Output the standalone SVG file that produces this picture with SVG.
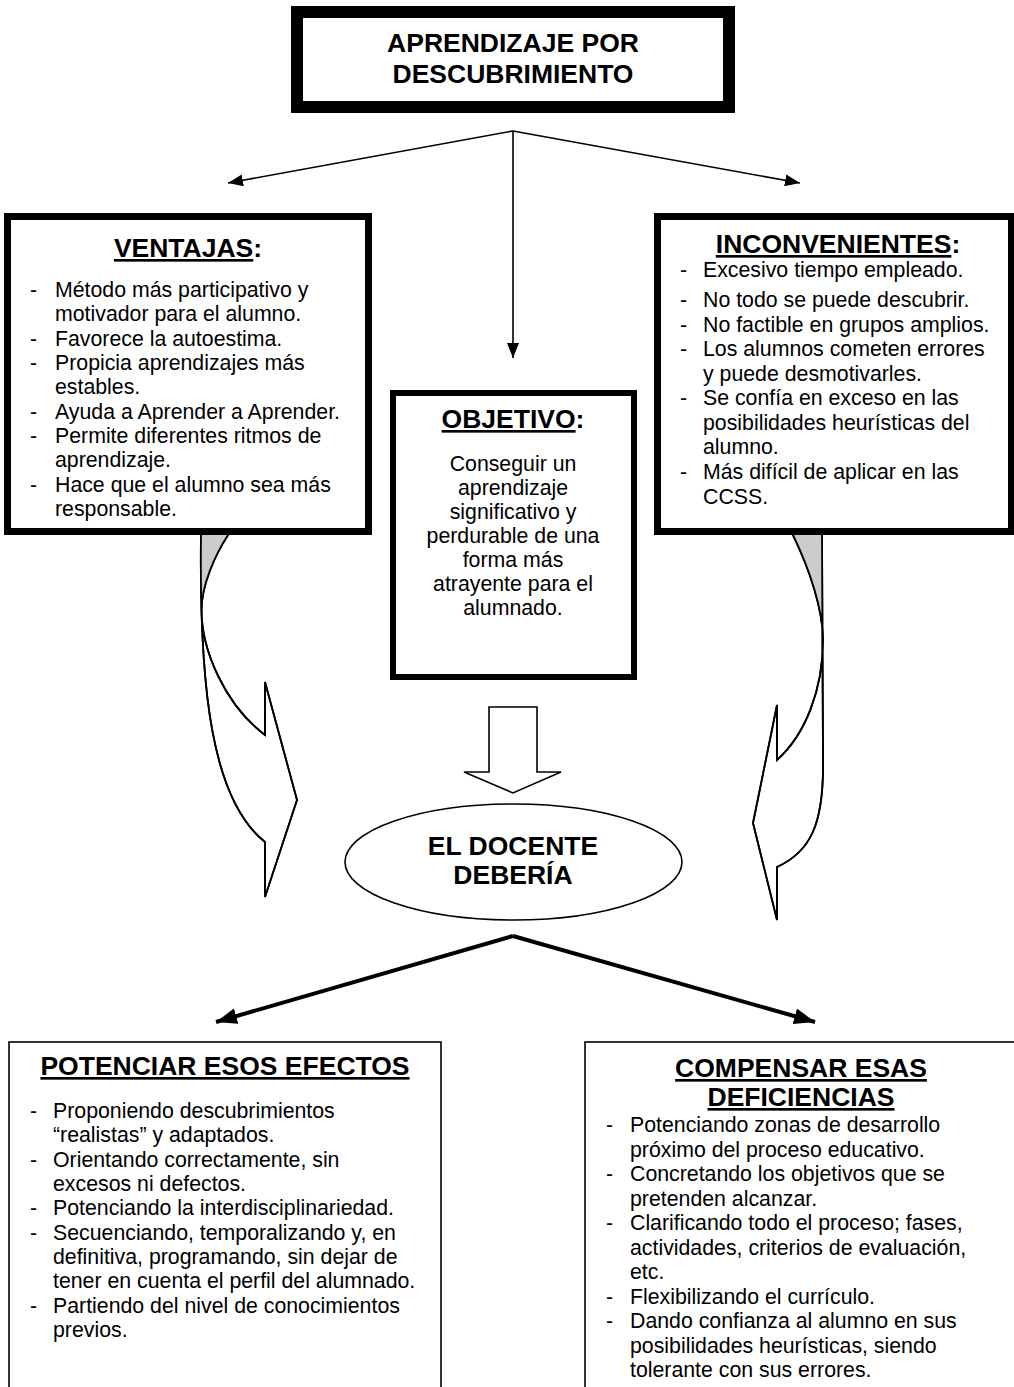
<svg xmlns="http://www.w3.org/2000/svg" width="1014" height="1387" viewBox="0 0 1014 1387">
<style>
text{font-family:"Liberation Sans",Arial,sans-serif;fill:#000}
.t{font-size:26.5px;font-weight:bold}
.b{font-size:21.3px}
.u{text-decoration:underline}
.c{text-anchor:middle}
.thin{stroke:#000;stroke-width:1.6;fill:none}
.thick{stroke:#000;stroke-width:4;fill:none}
.curve{stroke:#000;stroke-width:1.8;fill:#fff;stroke-linejoin:miter}
</style>
<defs>
<marker id="ah" markerUnits="userSpaceOnUse" markerWidth="16" markerHeight="12" refX="15" refY="6" orient="auto"><path d="M0,0 L15,6 L0,12 Z" fill="#000"/></marker>
<marker id="ahb" markerUnits="userSpaceOnUse" markerWidth="22" markerHeight="16" refX="21" refY="8" orient="auto"><path d="M0,0 L21,8 L0,16 Z" fill="#000"/></marker>
<clipPath id="cl"><rect x="150" y="520" width="120" height="90"/></clipPath>
<clipPath id="cr"><rect x="760" y="520" width="120" height="120"/></clipPath>
</defs>
<g id="curved-arrows">
<path id="curve-left" class="curve" d="M201,535 C199,690 212,800 265,842 L265,897 L297,800 L265,682 L265,735 C225,705 201.5,650 201.5,610 C201.5,585 215,555 228,535 Z"/>
<path d="M201,535 C199,690 212,800 265,842 L265,897 L297,800 L265,682 L265,735 C225,705 201.5,650 201.5,610 C201.5,585 215,555 228,535 Z" fill="#ccc" clip-path="url(#cl)"/>
<path class="curve" style="fill:none" d="M201,535 C199,690 212,800 265,842 L265,897 L297,800 L265,682 L265,735 C225,705 201.5,650 201.5,610 C201.5,585 215,555 228,535"/>
<path id="curve-right" class="curve" d="M822,535 L823,760 C824,825 810,852 777,867 L777,920 L753,823 L777,705 L777,760 C805,735 823,690 823,640 C823,610 810,570 793,535 Z"/>
<path d="M822,535 L823,760 C824,825 810,852 777,867 L777,920 L753,823 L777,705 L777,760 C805,735 823,690 823,640 C823,610 810,570 793,535 Z" fill="#ccc" clip-path="url(#cr)"/>
<path class="curve" style="fill:none" d="M822,535 L823,760 C824,825 810,852 777,867 L777,920 L753,823 L777,705 L777,760 C805,735 823,690 823,640 C823,610 810,570 793,535"/>
</g>
<g id="connectors">
<line class="thin" x1="513" y1="131" x2="228" y2="183" marker-end="url(#ah)"/>
<line class="thin" x1="513" y1="131" x2="800" y2="183" marker-end="url(#ah)"/>
<line class="thin" x1="513" y1="131" x2="513" y2="358" marker-end="url(#ah)"/>
<path id="block-arrow" d="M489,707 L537,707 L537,772 L561,772 L513,793 L464,772 L489,772 Z" fill="#fff" stroke="#000" stroke-width="1.6"/>
<line class="thick" x1="513" y1="936" x2="216" y2="1022" marker-end="url(#ahb)"/>
<line class="thick" x1="513" y1="936" x2="815" y2="1022" marker-end="url(#ahb)"/>
</g>
<g id="node-top">
<rect x="297" y="12" width="432" height="95" fill="#fff" stroke="#000" stroke-width="12"/>
<text class="t c" x="513" y="52">APRENDIZAJE POR</text>
<text class="t c" x="513" y="83">DESCUBRIMIENTO</text>
</g>
<g id="node-ventajas">
<rect x="7.5" y="216.5" width="361" height="315" fill="#fff" stroke="#000" stroke-width="7"/>
<text class="t c" x="188" y="257"><tspan class="u">VENTAJAS</tspan>:</text>
<g class="b">
<text x="30" y="297">-</text><text x="55" y="297">Método más participativo y</text>
<text x="55" y="321">motivador para el alumno.</text>
<text x="30" y="346">-</text><text x="55" y="346">Favorece la autoestima.</text>
<text x="30" y="370">-</text><text x="55" y="370">Propicia aprendizajes más</text>
<text x="55" y="394">estables.</text>
<text x="30" y="419">-</text><text x="55" y="419">Ayuda a Aprender a Aprender.</text>
<text x="30" y="443">-</text><text x="55" y="443">Permite diferentes ritmos de</text>
<text x="55" y="467">aprendizaje.</text>
<text x="30" y="492">-</text><text x="55" y="492">Hace que el alumno sea más</text>
<text x="55" y="516">responsable.</text>
</g>
</g>
<g id="node-inconvenientes">
<rect x="657.5" y="216.5" width="354" height="315" fill="#fff" stroke="#000" stroke-width="7"/>
<text class="t c" x="838" y="253"><tspan class="u">INCONVENIENTES</tspan>:</text>
<g class="b">
<text x="680" y="277">-</text><text x="703" y="277">Excesivo tiempo empleado.</text>
<text x="680" y="307">-</text><text x="703" y="307">No todo se puede descubrir.</text>
<text x="680" y="332">-</text><text x="703" y="332">No factible en grupos amplios.</text>
<text x="680" y="356">-</text><text x="703" y="356">Los alumnos cometen errores</text>
<text x="703" y="381">y puede desmotivarles.</text>
<text x="680" y="405">-</text><text x="703" y="405">Se confía en exceso en las</text>
<text x="703" y="430">posibilidades heurísticas del</text>
<text x="703" y="454">alumno.</text>
<text x="680" y="479">-</text><text x="703" y="479">Más difícil de aplicar en las</text>
<text x="703" y="504">CCSS.</text>
</g>
</g>
<g id="node-objetivo">
<rect x="393" y="393" width="241" height="284" fill="#fff" stroke="#000" stroke-width="6"/>
<text class="t c" x="513" y="428"><tspan class="u">OBJETIVO</tspan>:</text>
<g class="b c">
<text x="513" y="471">Conseguir un</text>
<text x="513" y="495">aprendizaje</text>
<text x="513" y="519">significativo y</text>
<text x="513" y="543">perdurable de una</text>
<text x="513" y="567">forma más</text>
<text x="513" y="591">atrayente para el</text>
<text x="513" y="615">alumnado.</text>
</g>
</g>
<g id="node-docente">
<ellipse cx="513.5" cy="862" rx="168.5" ry="58" fill="#fff" stroke="#000" stroke-width="1.6"/>
<text class="t c" x="513" y="855">EL DOCENTE</text>
<text class="t c" x="513" y="884">DEBERÍA</text>
</g>
<g id="node-potenciar">
<rect x="9" y="1042" width="432" height="370" fill="#fff" stroke="#000" stroke-width="1.6"/>
<text class="t c u" x="225" y="1075">POTENCIAR ESOS EFECTOS</text>
<g class="b">
<text x="30" y="1118">-</text><text x="53" y="1118">Proponiendo descubrimientos</text>
<text x="53" y="1142">“realistas” y adaptados.</text>
<text x="30" y="1167">-</text><text x="53" y="1167">Orientando correctamente, sin</text>
<text x="53" y="1191">excesos ni defectos.</text>
<text x="30" y="1215">-</text><text x="53" y="1215">Potenciando la interdisciplinariedad.</text>
<text x="30" y="1240">-</text><text x="53" y="1240">Secuenciando, temporalizando y, en</text>
<text x="53" y="1264">definitiva, programando, sin dejar de</text>
<text x="53" y="1288">tener en cuenta el perfil del alumnado.</text>
<text x="30" y="1313">-</text><text x="53" y="1313">Partiendo del nivel de conocimientos</text>
<text x="53" y="1337">previos.</text>
</g>
</g>
<g id="node-compensar">
<rect x="585" y="1042" width="440" height="370" fill="#fff" stroke="#000" stroke-width="1.6"/>
<text class="t c u" x="801" y="1077">COMPENSAR ESAS</text>
<text class="t c u" x="801" y="1106">DEFICIENCIAS</text>
<g class="b">
<text x="606" y="1132">-</text><text x="630" y="1132">Potenciando zonas de desarrollo</text>
<text x="630" y="1157">próximo del proceso educativo.</text>
<text x="606" y="1181">-</text><text x="630" y="1181">Concretando los objetivos que se</text>
<text x="630" y="1206">pretenden alcanzar.</text>
<text x="606" y="1230">-</text><text x="630" y="1230">Clarificando todo el proceso; fases,</text>
<text x="630" y="1255">actividades, criterios de evaluación,</text>
<text x="630" y="1279">etc.</text>
<text x="606" y="1304">-</text><text x="630" y="1304">Flexibilizando el currículo.</text>
<text x="606" y="1328">-</text><text x="630" y="1328">Dando confianza al alumno en sus</text>
<text x="630" y="1353">posibilidades heurísticas, siendo</text>
<text x="630" y="1377">tolerante con sus errores.</text>
</g>
</g>
</svg>
